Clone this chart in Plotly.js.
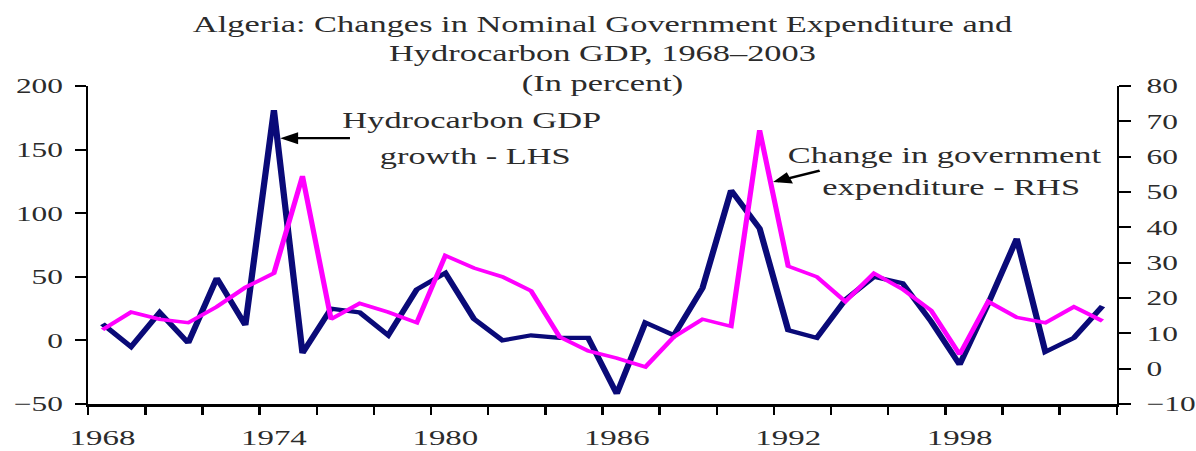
<!DOCTYPE html>
<html>
<head>
<meta charset="utf-8">
<script src="https://cdn.plot.ly/plotly-3.0.1.min.js"></script>
<style>
  html, body { margin: 0; padding: 0; background: #fff; overflow: hidden; }
  /* the chart is laid out on a narrower canvas and widened horizontally */
  #chart { width: 800px; height: 451px; transform: scaleX(1.495); transform-origin: 0 0; }
</style>
</head>
<body>
<div id="chart"></div>
<script>
const years = [1968, 1969, 1970, 1971, 1972, 1973, 1974, 1975, 1976, 1977, 1978, 1979,
               1980, 1981, 1982, 1983, 1984, 1985, 1986, 1987, 1988, 1989, 1990, 1991,
               1992, 1993, 1994, 1995, 1996, 1997, 1998, 1999, 2000, 2001, 2002, 2003];

// Hydrocarbon GDP growth, percent (left axis)
const hydroGrowth = [13, -5, 22, -2, 49, 12, 181, -10, 25, 22, 4, 40,
                     53, 17, 0, 4, 2, 2, -42, 14, 4, 41, 118, 88,
                     8, 2, 32, 50, 45, 15, -19, 29, 80, -9, 2, 27];

// Change in government expenditure, percent (right axis)
const govExpChange = [11, 16, 14, 13, 17.5, 23, 27, 54.5, 14, 18.5, 16, 13,
                      32, 28.5, 26, 22, 9, 5, 3, 0.5, 9, 14, 12, 67.5,
                      29, 26, 19, 27, 22.5, 16.5, 4, 19, 14.5, 13, 17.5, 13.5];

const yearLabels = [1968, 1974, 1980, 1986, 1992, 1998];
const leftTicks = [-50, 0, 50, 100, 150, 200];
const rightTicks = [-10, 0, 10, 20, 30, 40, 50, 60, 70, 80];

const FONT = 'Liberation Serif, Times New Roman, serif';
const TEXT = '#2b2b2b';

const traces = [
  {
    x: years, y: hydroGrowth, type: 'scatter', mode: 'lines',
    name: 'Hydrocarbon GDP growth - LHS',
    line: { color: '#0a0a78', width: 4.2 },
    xaxis: 'x', yaxis: 'y'
  },
  {
    x: years, y: govExpChange, type: 'scatter', mode: 'lines',
    name: 'Change in government expenditure - RHS',
    line: { color: '#ff00ff', width: 3.5 },
    xaxis: 'x', yaxis: 'y2'
  }
];

const layout = {
  width: 800, height: 451,
  margin: { l: 59, r: 53, t: 86, b: 47 },
  paper_bgcolor: '#fff', plot_bgcolor: '#fff',
  showlegend: false,
  font: { family: FONT, color: TEXT, size: 21 },
  title: {
    text: 'Algeria: Changes in Nominal Government Expenditure and<br>Hydrocarbon GDP, 1968–2003<br>(In percent)',
    font: { family: FONT, size: 23, color: TEXT },
    xref: 'paper', x: 0.5, xanchor: 'center',
    yref: 'container', y: 0.93, yanchor: 'top'
  },
  xaxis: {
    range: [1967.5, 2003.5],
    tickmode: 'array', tickvals: yearLabels, ticktext: yearLabels.map(String),
    ticks: '', showgrid: false, zeroline: false,
    showline: true, linecolor: '#000', linewidth: 2.5,
    tickfont: { family: FONT, size: 22, color: TEXT },
    ticklabelstandoff: 12,
    minor: { tick0: 1967.5, dtick: 2, ticks: 'outside', ticklen: 8, tickwidth: 1.6, tickcolor: '#000', showgrid: false }
  },
  yaxis: {
    range: [-50, 200], tickmode: 'array', tickvals: leftTicks,
    ticks: 'outside', ticklen: 7, tickwidth: 2, tickcolor: '#000',
    showline: true, linecolor: '#000', linewidth: 1.7,
    showgrid: false, zeroline: false,
    tickfont: { family: FONT, size: 21, color: TEXT },
    ticklabelstandoff: 4
  },
  yaxis2: {
    range: [-10, 80], tickmode: 'array', tickvals: rightTicks,
    overlaying: 'y', side: 'right', anchor: 'x',
    ticks: 'outside', ticklen: 8, tickwidth: 2, tickcolor: '#000',
    showline: true, linecolor: '#000', linewidth: 1.7,
    showgrid: false, zeroline: false,
    tickfont: { family: FONT, size: 21, color: TEXT },
    ticklabelstandoff: 6
  },
  // inner halves of the right-hand crossing ticks
  yaxis3: {
    range: [-10, 80], tickmode: 'array', tickvals: rightTicks,
    overlaying: 'y', side: 'right', anchor: 'x',
    ticks: 'inside', ticklen: 8, tickwidth: 2, tickcolor: '#000',
    showticklabels: false, showline: false, showgrid: false, zeroline: false
  },
  annotations: [
    { xref: 'paper', yref: 'paper', x: 0.3727, y: 0.893, text: 'Hydrocarbon GDP',
      showarrow: false, font: { family: FONT, size: 23, color: TEXT }, xanchor: 'center', yanchor: 'middle' },
    { xref: 'paper', yref: 'paper', x: 0.376, y: 0.777, text: 'growth - LHS',
      showarrow: false, font: { family: FONT, size: 23, color: TEXT }, xanchor: 'center', yanchor: 'middle' },
    { xref: 'x', yref: 'y', x: 1974.22, y: 159, axref: 'x', ayref: 'y', ax: 1976.74, ay: 159,
      text: '', showarrow: true, arrowhead: 2, arrowsize: 1, arrowwidth: 2.4, arrowcolor: '#000' },
    { xref: 'paper', yref: 'paper', x: 0.8324, y: 0.783, text: 'Change in government',
      showarrow: false, font: { family: FONT, size: 23, color: TEXT }, xanchor: 'center', yanchor: 'middle' },
    { xref: 'paper', yref: 'paper', x: 0.8387, y: 0.682, text: 'expenditure - RHS',
      showarrow: false, font: { family: FONT, size: 23, color: TEXT }, xanchor: 'center', yanchor: 'middle' },
    { xref: 'x', yref: 'y2', x: 1991.47, y: 52.8, axref: 'x', ayref: 'y2', ax: 1993.18, ay: 56.2,
      text: '', showarrow: true, arrowhead: 2, arrowsize: 1, arrowwidth: 2.4, arrowcolor: '#000' }
  ]
};

Plotly.newPlot('chart', traces, layout, { staticPlot: true, displayModeBar: false });
</script>
</body>
</html>
